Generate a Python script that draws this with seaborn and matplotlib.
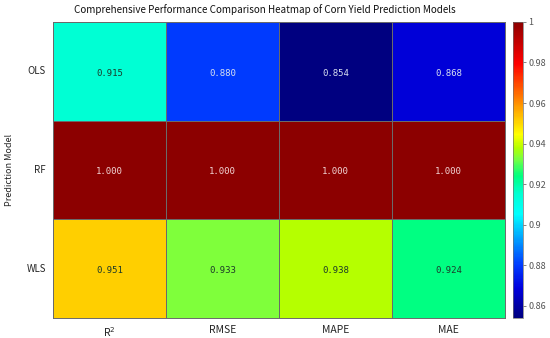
import numpy as np
import pandas as pd
import matplotlib
matplotlib.use("Agg")
import matplotlib.pyplot as plt
from matplotlib.colors import LinearSegmentedColormap
import seaborn as sns

# =========================================================
# DATA
# =========================================================

models = ["OLS", "RF", "WLS"]
metrics = ["R$^2$", "RMSE", "MAPE", "MAE"]

ols_scores = [0.915, 0.880, 0.854, 0.868]
rf_scores = [1.000, 1.000, 1.000, 1.000]
wls_scores = [0.951, 0.933, 0.938, 0.924]

cbar_ticks = [0.86, 0.88, 0.90, 0.92, 0.94, 0.96, 0.98, 1.00]
cbar_labels = ["0.86", "0.88", "0.9", "0.92", "0.94", "0.96", "0.98", "1"]

df = pd.DataFrame([ols_scores, rf_scores, wls_scores], index=models, columns=metrics)

# =========================================================
# STYLE
# =========================================================

sns.set_style("white")
plt.rcParams["font.family"] = ["Noto Sans CJK SC", "DejaVu Sans"]

# jet-like map, tuned to the reference rendering
jet_like = LinearSegmentedColormap.from_list("jet_like", [
    (0.00, (0.00, 0.00, 0.50)),
    (0.10, (0.00, 0.00, 0.87)),
    (0.18, (0.00, 0.24, 1.00)),
    (0.35, (0.00, 1.00, 1.00)),
    (0.42, (0.00, 1.00, 0.82)),
    (0.48, (0.00, 1.00, 0.50)),
    (0.54, (0.49, 1.00, 0.24)),
    (0.575, (0.70, 1.00, 0.00)),
    (0.62, (1.00, 1.00, 0.00)),
    (0.665, (1.00, 0.82, 0.00)),
    (0.86, (1.00, 0.00, 0.00)),
    (1.00, (0.55, 0.00, 0.00)),
])

fig = plt.figure(figsize=(5.5, 3.38), dpi=100)
ax = fig.add_axes([0.0964, 0.0592, 0.822, 0.876])
cax = fig.add_axes([0.9327, 0.0592, 0.0182, 0.876])

vmin = df.values.min()
vmax = df.values.max()

sns.heatmap(
    df,
    ax=ax,
    cbar_ax=cax,
    cmap=jet_like,
    vmin=vmin,
    vmax=vmax,
    annot=False,
    linewidths=0.7,
    linecolor="#6a6a6a",
)

# value labels, light text on dark cells
for i, m in enumerate(models):
    for j, c in enumerate(metrics):
        v = df.loc[m, c]
        norm = (v - vmin) / (vmax - vmin)
        if norm > 0.9:
            col = "#f2d6d6"
        elif norm < 0.25:
            col = "#d8e0f0"
        else:
            col = "#1c3a2a"
        ax.text(j + 0.5, i + 0.52, f"{v:.3f}", ha="center", va="center",
                fontsize=6.5, color=col, family="DejaVu Sans Mono")

for spine in ax.spines.values():
    spine.set_visible(True)
    spine.set_color("#6a6a6a")
    spine.set_linewidth(0.7)

fig.text(0.482, 0.972, "Comprehensive Performance Comparison Heatmap of Corn Yield Prediction Models",
         ha="center", va="center", fontsize=7.1, color="#111111")

ax.set_ylabel("Prediction Model", fontsize=6.5, labelpad=9)
ax.set_xlabel("")
ax.tick_params(axis="x", length=0, pad=5, labelsize=7.5)
ax.tick_params(axis="y", length=0, pad=5, labelsize=7)
ax.set_yticklabels(models, rotation=0)

cax.set_yticks(cbar_ticks)
cax.set_yticklabels(cbar_labels)
cax.tick_params(labelsize=6.5, length=2, width=0.5, colors="#555555", pad=2)
for spine in cax.spines.values():
    spine.set_color("#707070")
    spine.set_linewidth(0.5)

plt.savefig("out.png", dpi=100)
